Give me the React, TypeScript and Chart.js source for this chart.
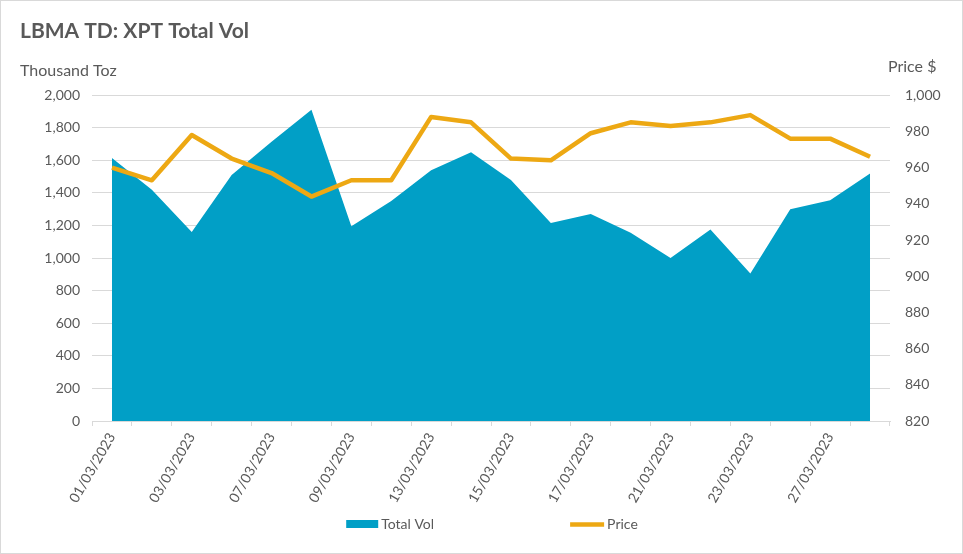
import React, { useEffect, useRef } from "react";
import { Chart, registerables } from "chart.js";

Chart.register(...registerables);

const dates = [
  "01/03/2023", "02/03/2023", "03/03/2023", "06/03/2023", "07/03/2023",
  "08/03/2023", "09/03/2023", "10/03/2023", "13/03/2023", "14/03/2023",
  "15/03/2023", "16/03/2023", "17/03/2023", "20/03/2023", "21/03/2023",
  "22/03/2023", "23/03/2023", "24/03/2023", "27/03/2023", "28/03/2023",
];
const totalVol = [
  1615, 1420, 1160, 1510, 1715, 1910, 1195, 1350, 1540, 1650,
  1480, 1215, 1270, 1155, 1000, 1175, 905, 1300, 1355, 1520,
];
const price = [
  960, 953, 978, 965, 957, 944, 953, 953, 988, 985,
  965, 964, 979, 985, 983, 985, 989, 976, 976, 966,
];

const TITLE = "LBMA TD: XPT Total Vol";
const LEFT_TITLE = "Thousand Toz";
const RIGHT_TITLE = "Price $";
const VOL_LABEL = "Total Vol";
const PRICE_LABEL = "Price";

const FONT = "Lato, 'Noto Sans', sans-serif";
const TEXT = "#595959";
const GRID = "#d9d9d9";
const VOL_COLOR = "#019FC6";
const PRICE_COLOR = "#EDA813";
const X_ROTATION = 60;

const extrasPlugin = {
  id: "extras",
  afterDraw(chart: any) {
    const ctx = chart.ctx as CanvasRenderingContext2D;
    const area = chart.chartArea;
    ctx.save();
    ctx.fillStyle = TEXT;
    ctx.textBaseline = "middle";
    ctx.textAlign = "left";
    ctx.font = `16px ${FONT}`;
    ctx.fillText(LEFT_TITLE, chart.scales.y.left, area.top - 24);
    ctx.fillText(RIGHT_TITLE, area.right - 2, area.top - 28);

    // legend
    ctx.font = `14px ${FONT}`;
    const ds = chart.data.datasets;
    const volDs = ds.find((d: any) => d.label === VOL_LABEL);
    const priceDs = ds.find((d: any) => d.label === PRICE_LABEL);
    const marker = 33;
    const gapText = 2;
    const gapItems = 136;
    const w1 = marker + gapText + ctx.measureText(volDs.label).width;
    const w2 = marker + gapText + ctx.measureText(priceDs.label).width;
    const total = w1 + gapItems + w2;
    const cx = (area.left + area.right) / 2;
    const ly = 523;
    let x = cx - total / 2;
    ctx.fillStyle = volDs.backgroundColor;
    ctx.fillRect(x, ly - 4, marker - 1, 8);
    ctx.fillStyle = TEXT;
    ctx.fillText(volDs.label, x + marker + gapText, ly);
    x += w1 + gapItems;
    ctx.strokeStyle = priceDs.borderColor;
    ctx.lineWidth = priceDs.borderWidth;
    ctx.beginPath();
    ctx.moveTo(x, ly + 0.5);
    ctx.lineTo(x + marker + 1, ly + 0.5);
    ctx.stroke();
    ctx.fillStyle = TEXT;
    ctx.fillText(priceDs.label, x + marker + gapText + 2, ly);
    ctx.restore();
  },
};

export default function App() {
  const ref = useRef<HTMLCanvasElement>(null);
  useEffect(() => {
    document.body.style.margin = "0";
    const canvas = ref.current;
    if (!canvas) return;
    const chart = new Chart(canvas, {
      type: "line",
      data: {
        labels: dates,
        datasets: [
          {
            label: VOL_LABEL,
            data: totalVol,
            yAxisID: "y",
            fill: "origin",
            backgroundColor: VOL_COLOR,
            borderColor: "transparent",
            borderWidth: 0,
            pointRadius: 0,
            pointHoverRadius: 0,
            tension: 0,
            order: 1,
          },
          {
            label: PRICE_LABEL,
            data: price,
            yAxisID: "y1",
            fill: false,
            borderColor: PRICE_COLOR,
            backgroundColor: PRICE_COLOR,
            borderWidth: 4.5,
            borderJoinStyle: "round",
            pointRadius: 0,
            pointHoverRadius: 0,
            tension: 0,
            order: 0,
          },
        ],
      },
      options: {
        responsive: false,
        animation: false,
        layout: { padding: { left: 19, right: 10, top: 0, bottom: 0 } },
        plugins: {
          legend: { display: false },
          tooltip: { enabled: false },
          title: {
            display: true,
            text: TITLE,
            align: "start",
            color: TEXT,
            font: { family: FONT, size: 21, weight: "bold" },
            padding: { top: 18, bottom: 51 },
          },
        },
        scales: {
          x: {
            offset: true,
            grid: {
              display: true,
              drawOnChartArea: false,
              drawTicks: true,
              tickLength: 5,
              color: GRID,
              offset: true,
            },
            border: { display: true, color: GRID },
            ticks: {
              autoSkip: false,
              maxRotation: X_ROTATION,
              minRotation: X_ROTATION,
              padding: 4,
              color: TEXT,
              font: { family: FONT, size: 14 },
              callback: (_v: any, i: number) => (i % 2 === 0 ? dates[i] : ""),
            },
            afterFit: (s: any) => {
              s.height = 132;
            },
          },
          y: {
            position: "left",
            min: 0,
            max: 2000,
            grid: { color: GRID, drawTicks: false },
            border: { display: false },
            ticks: {
              stepSize: 200,
              padding: 12,
              color: TEXT,
              font: { family: FONT, size: 14 },
              callback: (v: any) => Number(v).toLocaleString("en-US"),
            },
            afterFit: (s: any) => {
              s.width = 72;
            },
          },
          y1: {
            position: "right",
            min: 820,
            max: 1000,
            grid: { display: false, drawOnChartArea: false, drawTicks: false },
            border: { display: false },
            ticks: {
              stepSize: 20,
              padding: 15,
              color: TEXT,
              font: { family: FONT, size: 14 },
              callback: (v: any) => Number(v).toLocaleString("en-US"),
            },
            afterFit: (s: any) => {
              s.width = 62;
            },
          },
        },
      },
      plugins: [extrasPlugin],
    });
    return () => chart.destroy();
  }, []);
  return (
    <div
      style={{
        width: 963,
        height: 554,
        boxSizing: "border-box",
        border: "1px solid #d9d9d9",
        background: "#fff",
      }}
    >
      <canvas ref={ref} width={961} height={552} style={{ display: "block" }} />
    </div>
  );
}
